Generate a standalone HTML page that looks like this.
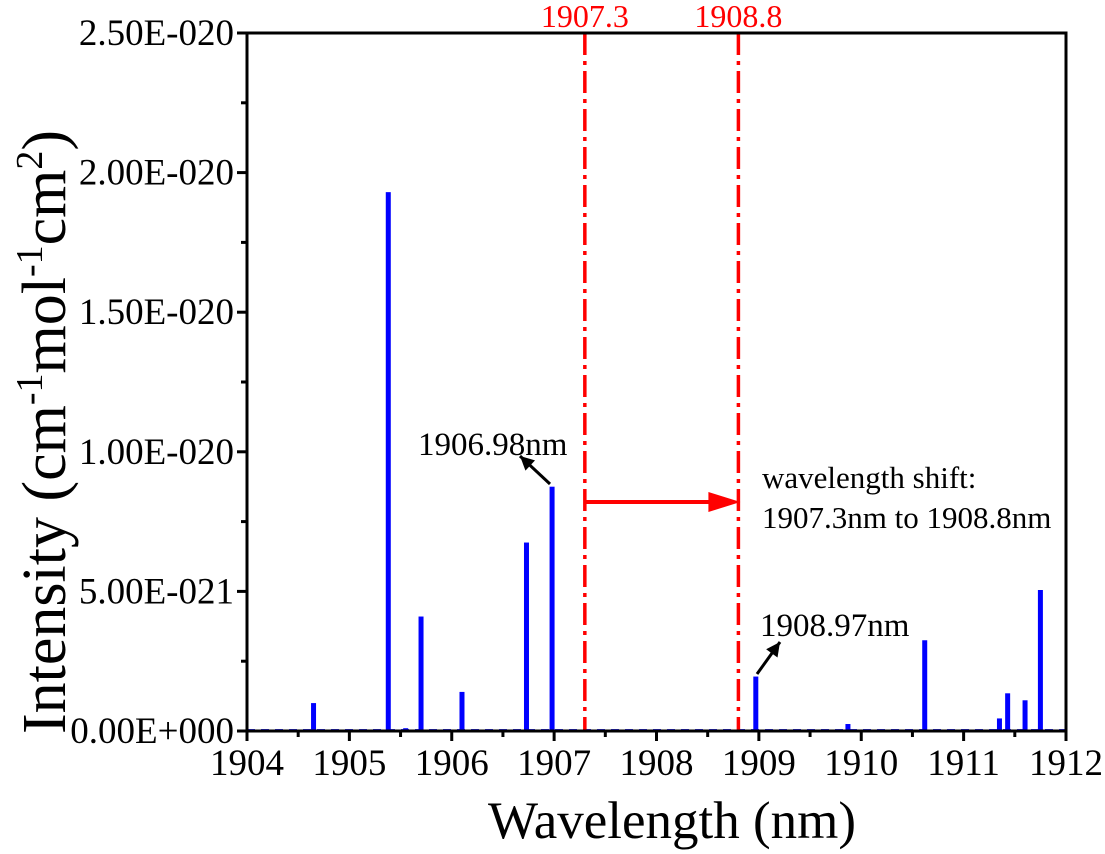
<!DOCTYPE html>
<html><head><meta charset="utf-8"><style>
body{margin:0;background:#fff;}
svg{display:block;font-family:"Liberation Serif",serif;}
</style></head><body>
<div style="position:relative;width:1105px;height:854px">
<svg id="chart" width="1105" height="854" viewBox="0 0 1105 854" style="position:absolute;left:0;top:0">
<g id="plot"></g>
<text x="672" y="838" text-anchor="middle" font-size="53">Wavelength (nm)</text>
<text transform="translate(65,432) rotate(-90)" text-anchor="middle" font-size="62">Intensity (cm<tspan font-size="38" dy="-23">-1</tspan><tspan dy="23">mol</tspan><tspan font-size="38" dy="-23">-1</tspan><tspan dy="23">cm</tspan><tspan font-size="38" dy="-23">2</tspan><tspan dy="23">)</tspan></text>
</svg>
</div>
<script>
const barX = [1904.65,1905.38,1905.55,1905.70,1906.10,1906.73,1906.98,1908.97,1909.87,1910.62,1911.35,1911.43,1911.60,1911.75];
const barY = [1.0,19.3,0.1,4.1,1.4,6.75,8.75,1.95,0.25,3.25,0.45,1.35,1.1,5.05]; // units of 1e-21
const xTicks = [1904,1905,1906,1907,1908,1909,1910,1911,1912];
const yTicks = [0,5,10,15,20,25];
const yTickLabels = ["0.00E+000","5.00E-021","1.00E-020","1.50E-020","2.00E-020","2.50E-020"];
const shiftLines = [1907.3,1908.8];

const L=247,R=1066,T=33,B=731;
const X0=1904,X1=1912,Y0=0,Y1=25;
const sx=v=>L+(v-X0)/(X1-X0)*(R-L);
const sy=v=>B-(v-Y0)/(Y1-Y0)*(B-T);
const NS="http://www.w3.org/2000/svg";
const g=document.getElementById('plot');
function mk(tag,attrs,parent){const e=document.createElementNS(NS,tag);for(const k in attrs)e.setAttribute(k,attrs[k]);(parent||g).appendChild(e);return e;}

let base=mk('line',{x1:L,y1:B-1,x2:R,y2:B-1,stroke:'#3333ff','stroke-width':2,'stroke-dasharray':'8 6'});



barX.forEach((x,i)=>{
  const r=mk('rect',{x:sx(x)-2.5,y:sy(barY[i]),width:5,height:B-sy(barY[i]),fill:'#0000ff'});
  
  
});

shiftLines.forEach(v=>{
  const l=mk('line',{x1:sx(v),y1:T,x2:sx(v),y2:B,stroke:'#ff0000','stroke-width':3.5,'stroke-dasharray':'22 6 4 6'});
  
  
  const t=mk('text',{x:sx(v),y:27,'text-anchor':'middle','font-size':32,fill:'#ff0000'});
  t.textContent=v.toFixed(1);
  
  
});

const ay=502;
let al=mk('line',{x1:sx(shiftLines[0]),y1:ay,x2:sx(shiftLines[1])-22,y2:ay,stroke:'#ff0000','stroke-width':4});


let ah=mk('polygon',{points:`${sx(shiftLines[1])-30},${ay-10} ${sx(shiftLines[1])+2},${ay} ${sx(shiftLines[1])-30},${ay+10}`,fill:'#ff0000'});



function ann(text,x,y,name,size){const t=mk('text',{x:x,y:y,'font-size':size||33,fill:'#000'});t.textContent=text;return t;}
ann('1906.98nm',418,455,'annotation-1906-98');
ann('1908.97nm',760,636,'annotation-1908-97');
ann('wavelength shift:',762,488,'shift-text-line1',31);
ann('1907.3nm to 1908.8nm',762,528,'shift-text-line2',31);
function arrow(x1,y1,x2,y2,name){
  const l=mk('line',{x1:x1,y1:y1,x2:x2,y2:y2,stroke:'#000','stroke-width':3});
  
  
  const a=Math.atan2(y2-y1,x2-x1),s=14,w=7;
  const bx=x2-s*Math.cos(a),by=y2-s*Math.sin(a);
  const p=mk('polygon',{points:`${x2},${y2} ${bx+w*Math.sin(a)},${by-w*Math.cos(a)} ${bx-w*Math.sin(a)},${by+w*Math.cos(a)}`,fill:'#000'});
  
  
}
arrow(550,484,520,456,'arrow-1906-98');
arrow(757,674,780,642,'arrow-1908-97');

let fr=mk('rect',{x:L,y:T,width:R-L,height:B-T,fill:'none',stroke:'#000','stroke-width':3});



xTicks.forEach(v=>{
  mk('line',{x1:sx(v),y1:B,x2:sx(v),y2:B+10,stroke:'#000','stroke-width':3});
  if(v<X1) mk('line',{x1:sx(v+0.5),y1:B,x2:sx(v+0.5),y2:B+6,stroke:'#000','stroke-width':3});
  const t=mk('text',{x:sx(v),y:B+44,'text-anchor':'middle','font-size':37});
  t.textContent=v;
  
  
});
yTicks.forEach((v,i)=>{
  mk('line',{x1:L-10,y1:sy(v),x2:L,y2:sy(v),stroke:'#000','stroke-width':3});
  if(v<Y1) mk('line',{x1:L-6,y1:sy(v+2.5),x2:L,y2:sy(v+2.5),stroke:'#000','stroke-width':3});
  const t=mk('text',{x:L-13,y:sy(v)+12,'text-anchor':'end','font-size':37});
  t.textContent=yTickLabels[i];
  
  
});
</script>
</body></html>
